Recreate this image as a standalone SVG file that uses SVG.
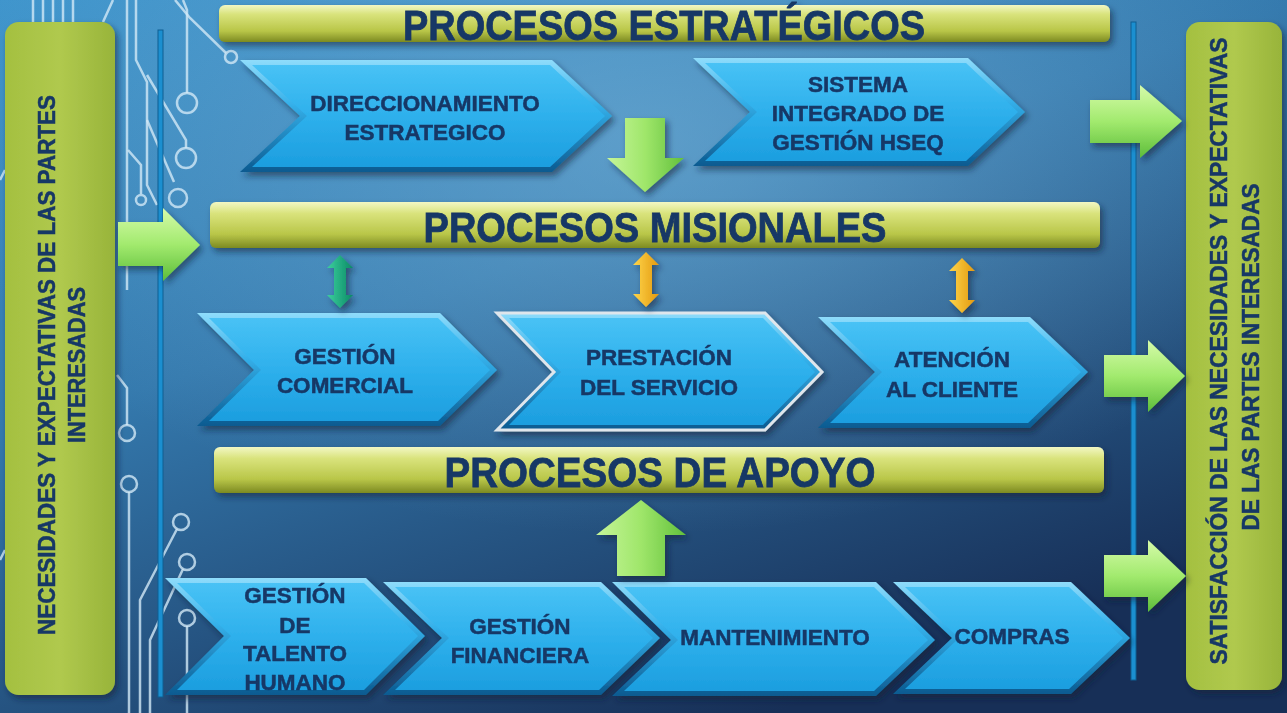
<svg xmlns="http://www.w3.org/2000/svg" width="1287" height="713" viewBox="0 0 1287 713">
<defs>
<linearGradient id="bg" x1="0" y1="0" x2="0.6" y2="1">
<stop offset="0" stop-color="#3f95cc"/>
<stop offset="0.45" stop-color="#3479ad"/>
<stop offset="1" stop-color="#172f57"/>
</linearGradient>
<radialGradient id="glow" cx="0.5" cy="0.2" r="0.55">
<stop offset="0" stop-color="#8cc4e6" stop-opacity="0.45"/>
<stop offset="1" stop-color="#8cc4e6" stop-opacity="0"/>
</radialGradient>
<linearGradient id="bev" x1="0" y1="0" x2="0" y2="1">
<stop offset="0" stop-color="#8fdcfb"/>
<stop offset="0.4" stop-color="#34b0ea"/>
<stop offset="1" stop-color="#0c5a90"/>
</linearGradient>
<linearGradient id="chv" x1="0" y1="0" x2="0" y2="1">
<stop offset="0" stop-color="#48c2f5"/>
<stop offset="0.5" stop-color="#2eb0ec"/>
<stop offset="1" stop-color="#1c9edf"/>
</linearGradient>
<linearGradient id="bar" x1="0" y1="0" x2="0" y2="1">
<stop offset="0" stop-color="#f2f7c4"/>
<stop offset="0.25" stop-color="#d9e37c"/>
<stop offset="0.7" stop-color="#b9c648"/>
<stop offset="1" stop-color="#7c8a22"/>
</linearGradient>
<linearGradient id="side" x1="0" y1="0" x2="1" y2="0">
<stop offset="0" stop-color="#a4c040"/>
<stop offset="0.5" stop-color="#b0c94e"/>
<stop offset="1" stop-color="#98b43a"/>
</linearGradient>
<linearGradient id="garrow" x1="0" y1="0" x2="0" y2="1">
<stop offset="0" stop-color="#d6fbaa"/>
<stop offset="0.5" stop-color="#a2ea6e"/>
<stop offset="1" stop-color="#5dbd3a"/>
</linearGradient>
<linearGradient id="garrowV" x1="0" y1="0" x2="1" y2="0">
<stop offset="0" stop-color="#c6f699"/>
<stop offset="0.5" stop-color="#9fe66a"/>
<stop offset="1" stop-color="#62c03c"/>
</linearGradient>
<linearGradient id="teal" x1="0" y1="0" x2="1" y2="0">
<stop offset="0" stop-color="#3ccf9e"/>
<stop offset="1" stop-color="#0b8a64"/>
</linearGradient>
<linearGradient id="orange" x1="0" y1="0" x2="1" y2="0">
<stop offset="0" stop-color="#ffd54a"/>
<stop offset="1" stop-color="#e39a10"/>
</linearGradient>
<filter id="sh" x="-10%" y="-10%" width="120%" height="130%">
<feDropShadow dx="3" dy="4" stdDeviation="3" flood-color="#0a1e38" flood-opacity="0.55"/>
</filter>
</defs>
<style>
.t{font-family:"Liberation Sans","DejaVu Sans",sans-serif;font-weight:bold;fill:#183766;stroke:#183766;stroke-width:0.5;text-anchor:middle}
.c{font-size:22.5px}
.h{font-size:42px;stroke-width:0.8}
.v{font-size:23px}
.circ{fill:none;stroke:#d2e8f6;stroke-width:2.5;stroke-opacity:0.8}
.outer{fill:url(#bev)}
.inner{fill:url(#chv)}
.bar{fill:url(#bar)}
.ga{fill:url(#garrow)}
</style>

<rect x="0" y="0" width="1287" height="713" fill="url(#bg)"/>
<rect x="0" y="0" width="1287" height="713" fill="url(#glow)"/>

<g id="circuit" class="circ">
<path d="M33,0V22M43,0V22M53,0V22M63,0V22M73,0V22M103,22L113,0"/>
<path d="M127,0V290M136,0V60L147,82V185L157,205"/>
<path d="M175,0L190,18L226,53"/>
<circle cx="231" cy="57" r="6"/>
<path d="M183,0L187,10V93"/>
<circle cx="187" cy="103" r="10"/>
<path d="M147,75L186,140V148"/>
<circle cx="186" cy="158" r="10"/>
<path d="M147,120L174,182"/>
<circle cx="178" cy="198" r="9"/>
<path d="M128,150L141,165V194"/>
<circle cx="141" cy="200" r="5"/>
<path d="M117,375L127,388V425"/>
<circle cx="127" cy="433" r="8"/>
<circle cx="129" cy="484" r="8"/>
<path d="M129,492V713"/>
<circle cx="181" cy="522" r="8"/>
<path d="M177,529L140,600V713"/>
<circle cx="187" cy="562" r="8"/>
<path d="M183,569L150,640V713"/>
<circle cx="187" cy="618" r="8"/>
<path d="M187,626V713"/>
<path d="M0,180L5,170M0,560L5,550"/>
</g>

<rect x="158" y="30" width="5" height="667" fill="#1b8fd0" stroke="#0f5e92" stroke-width="1"/>
<rect x="1131" y="22" width="5" height="658" fill="#1b8fd0" stroke="#0f5e92" stroke-width="1"/>

<g id="necesidades" filter="url(#sh)">
<rect x="5" y="22" width="110" height="673" rx="14" fill="url(#side)"/>
<text class="t v" transform="translate(47,365) rotate(-90)" x="0" y="8" textLength="540" lengthAdjust="spacingAndGlyphs">NECESIDADES Y EXPECTATIVAS DE LAS PARTES</text>
<text class="t v" transform="translate(77,365) rotate(-90)" x="0" y="8" textLength="156" lengthAdjust="spacingAndGlyphs">INTERESADAS</text>
</g>

<g id="satisfaccion" filter="url(#sh)">
<rect x="1186" y="22" width="96" height="668" rx="14" fill="url(#side)"/>
<text class="t v" transform="translate(1219,351) rotate(-90)" x="0" y="8" textLength="627" lengthAdjust="spacingAndGlyphs">SATISFACCIÓN DE LAS NECESIDADES Y EXPECTATIVAS</text>
<text class="t v" transform="translate(1251,357) rotate(-90)" x="0" y="8" textLength="347" lengthAdjust="spacingAndGlyphs">DE LAS PARTES INTERESADAS</text>
</g>

<g id="procesos-estrategicos" filter="url(#sh)">
<rect class="bar" x="219" y="5" width="891" height="37" rx="6"/>
<text class="t h" x="664" y="40" textLength="522" lengthAdjust="spacingAndGlyphs">PROCESOS ESTRATÉGICOS</text>
</g>

<g id="procesos-misionales" filter="url(#sh)">
<rect class="bar" x="210" y="202" width="890" height="46" rx="6"/>
<text class="t h" x="655" y="242" textLength="463" lengthAdjust="spacingAndGlyphs">PROCESOS MISIONALES</text>
</g>

<g id="procesos-apoyo" filter="url(#sh)">
<rect class="bar" x="214" y="447" width="890" height="46" rx="6"/>
<text class="t h" x="660" y="487" textLength="431" lengthAdjust="spacingAndGlyphs">PROCESOS DE APOYO</text>
</g>

<g id="direccionamiento" filter="url(#sh)">
<polygon class="outer" points="240,60 552,60 612,116 552,172 240,172 300,116"/>
<polygon class="inner" points="252,65 550,65 605,116 550,167 252,167 307,116"/>
<text class="t c" x="425" y="111">DIRECCIONAMIENTO</text>
<text class="t c" x="425" y="140">ESTRATEGICO</text>
</g>

<g id="sistema-hseq" filter="url(#sh)">
<polygon class="outer" points="693,58 968,58 1025,112 968,166 693,166 750,112"/>
<polygon class="inner" points="705,63 966,63 1018,112 966,161 705,161 757,112"/>
<text class="t c" x="858" y="92">SISTEMA</text>
<text class="t c" x="858" y="121">INTEGRADO DE</text>
<text class="t c" x="858" y="150">GESTIÓN HSEQ</text>
</g>

<g id="gestion-comercial" filter="url(#sh)">
<polygon class="outer" points="197,313 440,313 497,370 440,426 197,426 254,370"/>
<polygon class="inner" points="209,318 438,318 490,370 438,421 209,421 261,370"/>
<text class="t c" x="345" y="364">GESTIÓN</text>
<text class="t c" x="345" y="393">COMERCIAL</text>
</g>

<g id="prestacion-servicio" filter="url(#sh)">
<polygon class="outer" points="497,313 765,313 822,372 765,430 497,430 554,372" stroke="#dfe6ec" stroke-width="3"/>
<polygon class="inner" points="509,318 763,318 815,372 763,425 509,425 561,372"/>
<text class="t c" x="659" y="365">PRESTACIÓN</text>
<text class="t c" x="659" y="395">DEL SERVICIO</text>
</g>

<g id="atencion-cliente" filter="url(#sh)">
<polygon class="outer" points="818,317 1030,317 1088,372 1030,428 818,428 875,372"/>
<polygon class="inner" points="830,322 1028,322 1081,372 1028,423 830,423 882,372"/>
<text class="t c" x="952" y="367">ATENCIÓN</text>
<text class="t c" x="952" y="397">AL CLIENTE</text>
</g>

<g id="talento-humano" filter="url(#sh)">
<polygon class="outer" points="165,578 366,578 425,636 366,695 165,695 224,636"/>
<polygon class="inner" points="177,583 364,583 418,636 364,690 177,690 231,636"/>
<text class="t c" x="295" y="603">GESTIÓN</text>
<text class="t c" x="295" y="633">DE</text>
<text class="t c" x="295" y="661">TALENTO</text>
<text class="t c" x="295" y="690">HUMANO</text>
</g>

<g id="gestion-financiera" filter="url(#sh)">
<polygon class="outer" points="383,582 601,582 660,638 601,695 383,695 442,638"/>
<polygon class="inner" points="395,587 599,587 653,638 599,690 395,690 449,638"/>
<text class="t c" x="520" y="634">GESTIÓN</text>
<text class="t c" x="520" y="663">FINANCIERA</text>
</g>

<g id="mantenimiento" filter="url(#sh)">
<polygon class="outer" points="612,582 876,582 935,640 876,696 612,696 671,640"/>
<polygon class="inner" points="624,587 874,587 928,640 874,691 624,691 678,640"/>
<text class="t c" x="775" y="645">MANTENIMIENTO</text>
</g>

<g id="compras" filter="url(#sh)">
<polygon class="outer" points="893,582 1071,582 1130,638 1071,694 893,694 952,638"/>
<polygon class="inner" points="905,587 1069,587 1123,638 1069,689 905,689 959,638"/>
<text class="t c" x="1012" y="644">COMPRAS</text>
</g>

<g id="connectors" filter="url(#sh)">
<polygon class="ga" points="118,222 163,222 163,208 200,245 163,281 163,266 118,266"/>
<polygon fill="url(#garrowV)" points="625,118 665,118 665,158 684,158 645,192 607,158 625,158"/>
<polygon class="ga" points="1090,100 1140,100 1140,85 1182,121 1140,158 1140,143 1090,143"/>
<polygon class="ga" points="1104,355 1148,355 1148,340 1185,376 1148,412 1148,397 1104,397"/>
<polygon class="ga" points="1104,555 1148,555 1148,540 1186,576 1148,612 1148,597 1104,597"/>
<polygon fill="url(#garrowV)" points="641,500 686,535 665,535 665,576 617,576 617,535 596,535"/>
<polygon fill="url(#teal)" points="340,255 353,268 346,268 346,295 353,295 340,308 327,295 334,295 334,268 327,268"/>
<polygon fill="url(#orange)" points="646,252 659,265 652,265 652,294 659,294 646,307 633,294 640,294 640,265 633,265"/>
<polygon fill="url(#orange)" points="962,258 975,271 968,271 968,300 975,300 962,313 949,300 956,300 956,271 949,271"/>
</g>
</svg>
